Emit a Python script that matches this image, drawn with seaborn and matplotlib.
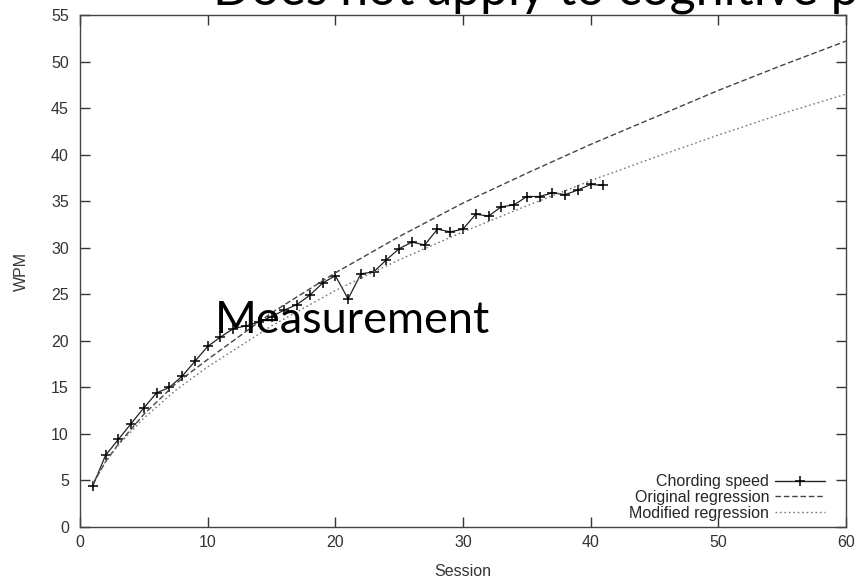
import matplotlib
matplotlib.use("Agg")
import matplotlib.pyplot as plt
import seaborn as sns

# Chording speed per session
sessions = list(range(1, 42))
wpm = [4.4, 7.7, 9.4, 11.1, 12.8, 14.4, 15.0, 16.2, 17.8, 19.4,
       20.4, 21.3, 21.6, 22.0, 22.6, 23.3, 23.9, 24.9, 26.2, 27.0,
       24.5, 27.2, 27.4, 28.7, 29.9, 30.6, 30.3, 32.0, 31.7, 32.0,
       33.6, 33.4, 34.4, 34.6, 35.5, 35.5, 35.9, 35.7, 36.2, 36.8, 36.7]

# Regression curves
reg_x = [1, 2, 3, 5, 7.5, 10, 15, 20, 25, 30, 35, 40, 45, 50, 55, 60]
orig_reg = [4.6, 7.0, 8.9, 12.1, 15.4, 18.0, 23.0, 27.3, 31.2, 34.8,
            38.0, 41.1, 44.0, 46.9, 49.6, 52.2]
mod_reg = [4.8, 7.0, 8.8, 11.7, 14.7, 17.2, 21.6, 25.4, 28.7, 31.7,
           34.5, 37.2, 39.7, 42.1, 44.4, 46.5]

sns.set_style("ticks")
plt.rcParams['font.family'] = ['Liberation Sans', 'DejaVu Sans']

fig = plt.figure(figsize=(8.56, 5.79), dpi=100)
ax = fig.add_axes([80 / 856, 1 - 527 / 579, 766 / 856, 512 / 579])

sns.lineplot(x=sessions, y=wpm, ax=ax, color='#222222', linewidth=0.9,
             marker='+', markersize=6.5, markeredgewidth=1.1,
             markeredgecolor='black', label='Chording speed')
sns.lineplot(x=reg_x, y=orig_reg, ax=ax, color='#444444', linewidth=1.0,
             label='Original regression')
sns.lineplot(x=reg_x, y=mod_reg, ax=ax, color='#777777', linewidth=1.0,
             label='Modified regression')
ax.lines[1].set_dashes([4, 2])
ax.lines[2].set_dashes([1.2, 2])

ax.set_xlim(0, 60)
ax.set_ylim(0, 55)
ax.set_xticks(range(0, 61, 10))
ax.set_yticks(range(0, 56, 5))
ax.tick_params(direction='in', length=7, width=1, top=True, right=True,
               labelsize=11.5, colors='#333333')
ax.tick_params(axis='y', pad=8)
ax.tick_params(axis='x', pad=6)
for s in ax.spines.values():
    s.set_color('#444444')
    s.set_linewidth(1.0)
ax.set_xlabel('Session', fontsize=11.5, color='#333333', labelpad=10)
ax.set_ylabel('WPM', fontsize=11.5, color='#333333', labelpad=16)

leg = ax.legend(loc='lower right', bbox_to_anchor=(0.9726, 0.012),
                markerfirst=False, frameon=False, fontsize=11.5,
                handlelength=3.1, handletextpad=0.4, labelspacing=0.05,
                borderpad=0, borderaxespad=0)
for h in leg.legend_handles:
    h.set_linewidth(1.0)
leg.legend_handles[1].set_dashes([4, 2])
leg.legend_handles[2].set_dashes([1.2, 2])

# overlaid slide text
fig.text(213 / 856, 1 - 4 / 579, 'Does not apply to cognitive p',
         family=['Lato', 'DejaVu Sans'], fontsize=36, va='baseline',
         ha='left', color='black')
fig.text(215 / 856, 1 - 333 / 579, 'Measurement',
         family=['Lato', 'DejaVu Sans'], fontsize=32.5, va='baseline',
         ha='left', color='black')

fig.savefig('out.png', dpi=100)
